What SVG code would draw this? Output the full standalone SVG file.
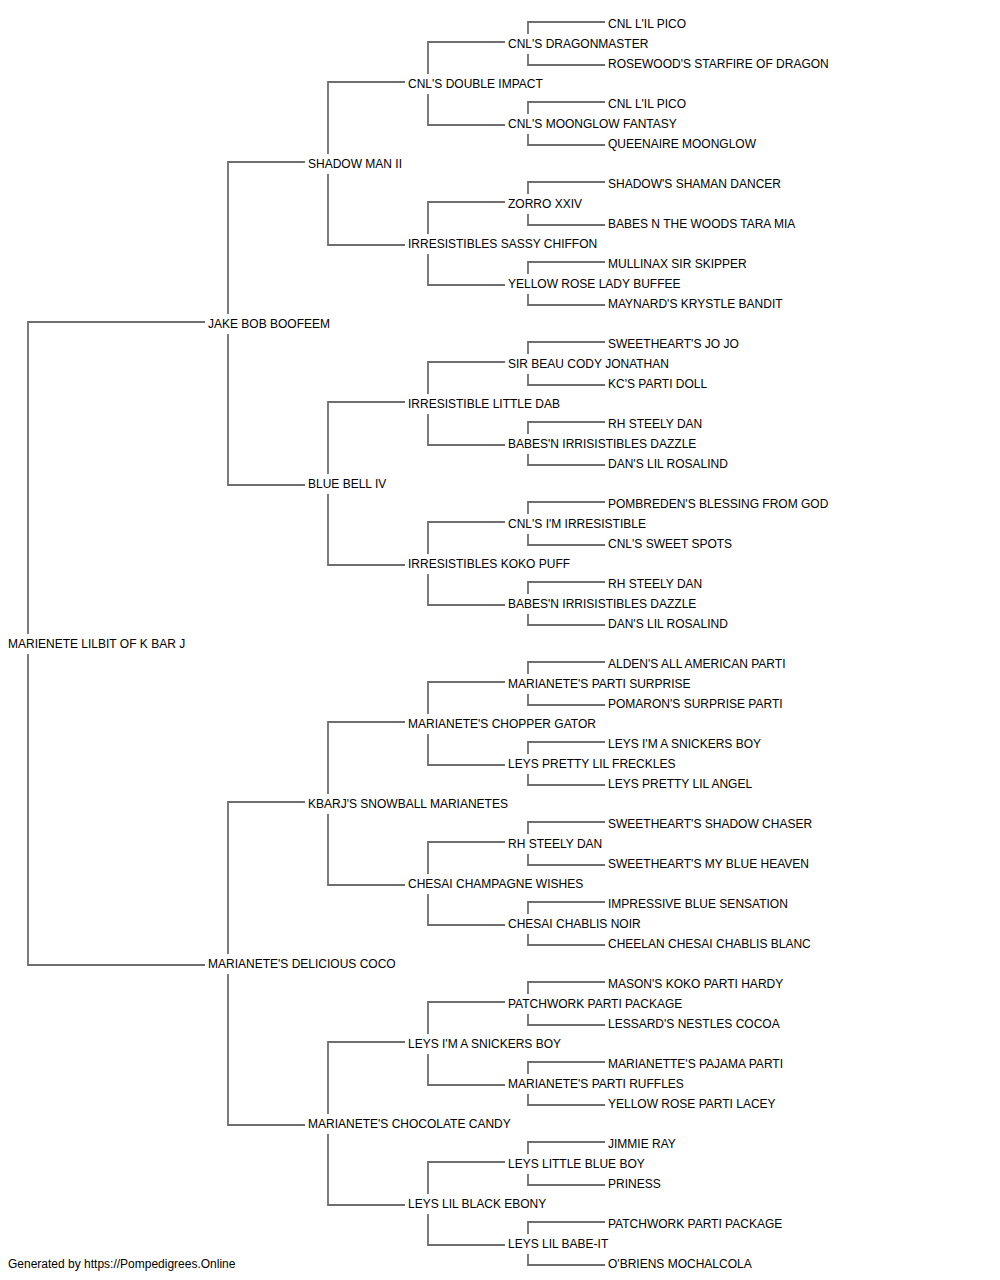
<svg xmlns="http://www.w3.org/2000/svg" width="1000" height="1280" viewBox="0 0 1000 1280">
<style>
text{font-family:"Liberation Sans",Arial,sans-serif;font-size:12px;fill:#000}
.c path{fill:none;stroke:#6e6e6e;stroke-width:1.8}
</style>
<rect width="1000" height="1280" fill="#fff"/>
<g id="connectors" class="c">
<path d="M205,322 H28 V634 M28,654 V965 H205"/>
<path d="M305,162 H228 V314 M228,334 V485 H305"/>
<path d="M305,802 H228 V954 M228,974 V1125 H305"/>
<path d="M405,82 H328 V154 M328,174 V245 H405"/>
<path d="M405,402 H328 V474 M328,494 V565 H405"/>
<path d="M405,722 H328 V794 M328,814 V885 H405"/>
<path d="M405,1042 H328 V1114 M328,1134 V1205 H405"/>
<path d="M505,42 H428 V74 M428,94 V125 H505"/>
<path d="M505,202 H428 V234 M428,254 V285 H505"/>
<path d="M505,362 H428 V394 M428,414 V445 H505"/>
<path d="M505,522 H428 V554 M428,574 V605 H505"/>
<path d="M505,682 H428 V714 M428,734 V765 H505"/>
<path d="M505,842 H428 V874 M428,894 V925 H505"/>
<path d="M505,1002 H428 V1034 M428,1054 V1085 H505"/>
<path d="M505,1162 H428 V1194 M428,1214 V1245 H505"/>
<path d="M605,22 H528 V34 M528,54 V65 H605"/>
<path d="M605,102 H528 V114 M528,134 V145 H605"/>
<path d="M605,182 H528 V194 M528,214 V225 H605"/>
<path d="M605,262 H528 V274 M528,294 V305 H605"/>
<path d="M605,342 H528 V354 M528,374 V385 H605"/>
<path d="M605,422 H528 V434 M528,454 V465 H605"/>
<path d="M605,502 H528 V514 M528,534 V545 H605"/>
<path d="M605,582 H528 V594 M528,614 V625 H605"/>
<path d="M605,662 H528 V674 M528,694 V705 H605"/>
<path d="M605,742 H528 V754 M528,774 V785 H605"/>
<path d="M605,822 H528 V834 M528,854 V865 H605"/>
<path d="M605,902 H528 V914 M528,934 V945 H605"/>
<path d="M605,982 H528 V994 M528,1014 V1025 H605"/>
<path d="M605,1062 H528 V1074 M528,1094 V1105 H605"/>
<path d="M605,1142 H528 V1154 M528,1174 V1185 H605"/>
<path d="M605,1222 H528 V1234 M528,1254 V1265 H605"/>
</g>
<g id="g0"><text x="8" y="648">MARIENETE LILBIT OF K BAR J</text></g>
<g id="g1-1"><text x="208" y="328">JAKE BOB BOOFEEM</text></g>
<g id="g1-2"><text x="208" y="968">MARIANETE'S DELICIOUS COCO</text></g>
<g id="g2-1"><text x="308" y="168">SHADOW MAN II</text></g>
<g id="g2-2"><text x="308" y="488">BLUE BELL IV</text></g>
<g id="g2-3"><text x="308" y="808">KBARJ'S SNOWBALL MARIANETES</text></g>
<g id="g2-4"><text x="308" y="1128">MARIANETE'S CHOCOLATE CANDY</text></g>
<g id="g3-1"><text x="408" y="88">CNL'S DOUBLE IMPACT</text></g>
<g id="g3-2"><text x="408" y="248">IRRESISTIBLES SASSY CHIFFON</text></g>
<g id="g3-3"><text x="408" y="408">IRRESISTIBLE LITTLE DAB</text></g>
<g id="g3-4"><text x="408" y="568">IRRESISTIBLES KOKO PUFF</text></g>
<g id="g3-5"><text x="408" y="728">MARIANETE'S CHOPPER GATOR</text></g>
<g id="g3-6"><text x="408" y="888">CHESAI CHAMPAGNE WISHES</text></g>
<g id="g3-7"><text x="408" y="1048">LEYS I'M A SNICKERS BOY</text></g>
<g id="g3-8"><text x="408" y="1208">LEYS LIL BLACK EBONY</text></g>
<g id="g4-1"><text x="508" y="48">CNL'S DRAGONMASTER</text></g>
<g id="g4-2"><text x="508" y="128">CNL'S MOONGLOW FANTASY</text></g>
<g id="g4-3"><text x="508" y="208">ZORRO XXIV</text></g>
<g id="g4-4"><text x="508" y="288">YELLOW ROSE LADY BUFFEE</text></g>
<g id="g4-5"><text x="508" y="368">SIR BEAU CODY JONATHAN</text></g>
<g id="g4-6"><text x="508" y="448">BABES'N IRRISISTIBLES DAZZLE</text></g>
<g id="g4-7"><text x="508" y="528">CNL'S I'M IRRESISTIBLE</text></g>
<g id="g4-8"><text x="508" y="608">BABES'N IRRISISTIBLES DAZZLE</text></g>
<g id="g4-9"><text x="508" y="688">MARIANETE'S PARTI SURPRISE</text></g>
<g id="g4-10"><text x="508" y="768">LEYS PRETTY LIL FRECKLES</text></g>
<g id="g4-11"><text x="508" y="848">RH STEELY DAN</text></g>
<g id="g4-12"><text x="508" y="928">CHESAI CHABLIS NOIR</text></g>
<g id="g4-13"><text x="508" y="1008">PATCHWORK PARTI PACKAGE</text></g>
<g id="g4-14"><text x="508" y="1088">MARIANETE'S PARTI RUFFLES</text></g>
<g id="g4-15"><text x="508" y="1168">LEYS LITTLE BLUE BOY</text></g>
<g id="g4-16"><text x="508" y="1248">LEYS LIL BABE-IT</text></g>
<g id="g5-1"><text x="608" y="28">CNL L'IL PICO</text></g>
<g id="g5-2"><text x="608" y="68">ROSEWOOD'S STARFIRE OF DRAGON</text></g>
<g id="g5-3"><text x="608" y="108">CNL L'IL PICO</text></g>
<g id="g5-4"><text x="608" y="148">QUEENAIRE MOONGLOW</text></g>
<g id="g5-5"><text x="608" y="188">SHADOW'S SHAMAN DANCER</text></g>
<g id="g5-6"><text x="608" y="228">BABES N THE WOODS TARA MIA</text></g>
<g id="g5-7"><text x="608" y="268">MULLINAX SIR SKIPPER</text></g>
<g id="g5-8"><text x="608" y="308">MAYNARD'S KRYSTLE BANDIT</text></g>
<g id="g5-9"><text x="608" y="348">SWEETHEART'S JO JO</text></g>
<g id="g5-10"><text x="608" y="388">KC'S PARTI DOLL</text></g>
<g id="g5-11"><text x="608" y="428">RH STEELY DAN</text></g>
<g id="g5-12"><text x="608" y="468">DAN'S LIL ROSALIND</text></g>
<g id="g5-13"><text x="608" y="508">POMBREDEN'S BLESSING FROM GOD</text></g>
<g id="g5-14"><text x="608" y="548">CNL'S SWEET SPOTS</text></g>
<g id="g5-15"><text x="608" y="588">RH STEELY DAN</text></g>
<g id="g5-16"><text x="608" y="628">DAN'S LIL ROSALIND</text></g>
<g id="g5-17"><text x="608" y="668">ALDEN'S ALL AMERICAN PARTI</text></g>
<g id="g5-18"><text x="608" y="708">POMARON'S SURPRISE PARTI</text></g>
<g id="g5-19"><text x="608" y="748">LEYS I'M A SNICKERS BOY</text></g>
<g id="g5-20"><text x="608" y="788">LEYS PRETTY LIL ANGEL</text></g>
<g id="g5-21"><text x="608" y="828">SWEETHEART'S SHADOW CHASER</text></g>
<g id="g5-22"><text x="608" y="868">SWEETHEART'S MY BLUE HEAVEN</text></g>
<g id="g5-23"><text x="608" y="908">IMPRESSIVE BLUE SENSATION</text></g>
<g id="g5-24"><text x="608" y="948">CHEELAN CHESAI CHABLIS BLANC</text></g>
<g id="g5-25"><text x="608" y="988">MASON'S KOKO PARTI HARDY</text></g>
<g id="g5-26"><text x="608" y="1028">LESSARD'S NESTLES COCOA</text></g>
<g id="g5-27"><text x="608" y="1068">MARIANETTE'S PAJAMA PARTI</text></g>
<g id="g5-28"><text x="608" y="1108">YELLOW ROSE PARTI LACEY</text></g>
<g id="g5-29"><text x="608" y="1148">JIMMIE RAY</text></g>
<g id="g5-30"><text x="608" y="1188">PRINESS</text></g>
<g id="g5-31"><text x="608" y="1228">PATCHWORK PARTI PACKAGE</text></g>
<g id="g5-32"><text x="608" y="1268">O'BRIENS MOCHALCOLA</text></g>
<text x="8" y="1268">Generated by https://Pompedigrees.Online</text>
</svg>
